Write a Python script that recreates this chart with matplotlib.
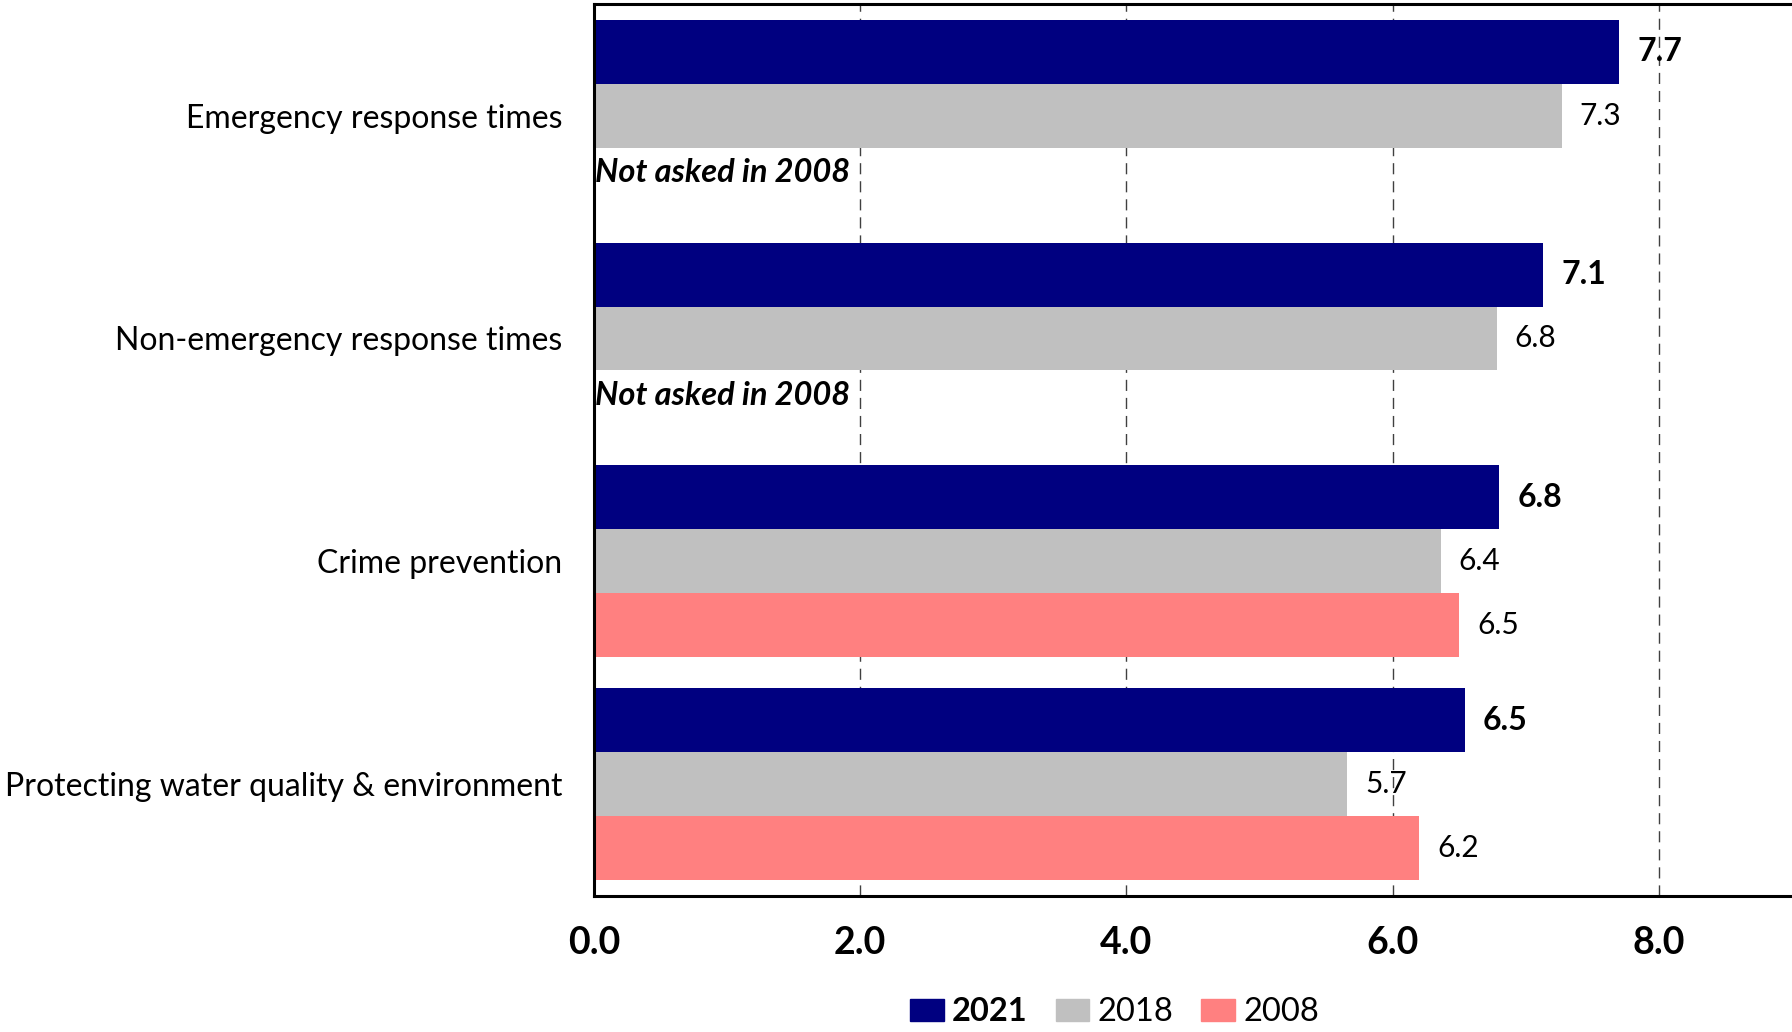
import matplotlib
matplotlib.use('Agg')
from matplotlib import pyplot as plt
from matplotlib.patches import Patch
import numpy as np

# data
categories = ['Emergency response times', 'Non-emergency response times',
              'Crime prevention', 'Protecting water quality & environment']
years = ['2021', '2018', '2008']
vals_2021 = [7.70, 7.13, 6.80, 6.54]
vals_2018 = [7.27, 6.78, 6.36, 5.66]
vals_2008 = [None, None, 6.50, 6.20]
not_asked_text = 'Not asked in 2008'
xticks = [0.0, 2.0, 4.0, 6.0, 8.0]

colors = ['#000080', '#C0C0C0', '#FF8080']
series = [vals_2021, vals_2018, vals_2008]

plt.rcParams['font.family'] = ['Lato', 'DejaVu Sans']

fig = plt.figure(figsize=(17.92, 10.32), dpi=100)
ax = fig.add_axes([0.3315, 0.132, 0.6685, 0.864])

h = 0.287
y = np.arange(len(categories))
for k, vals in enumerate(series):
    offs = (k - 1) * h
    for i, v in enumerate(vals):
        if v is None:
            # question missing that year
            ax.text(0.01, y[i] + offs - 0.03, not_asked_text, fontsize=23.5,
                    fontweight='bold', fontstyle='italic', va='center', ha='left')
            continue
        ax.barh(y[i] + offs, v, height=h, color=colors[k], zorder=2)
        ax.annotate('%.1f' % v, (v, y[i] + offs), xytext=(13, 0),
                    textcoords='offset points', va='center', ha='left',
                    fontsize=21.5 if k else 23, fontweight='bold' if k == 0 else 'normal')

ax.set_ylim(3.5, -0.5)
ax.set_xlim(0, 9)
ax.set_yticks(y)
ax.set_yticklabels(categories, fontsize=23)
ax.set_xticks(xticks)
ax.set_xticklabels(['%.1f' % t for t in xticks], fontsize=27, fontweight='bold')
ax.tick_params(axis='both', length=0)
ax.tick_params(axis='x', pad=22)
ax.tick_params(axis='y', pad=23)
ax.xaxis.grid(True, linestyle=(0, (8, 5)), color='#404040', linewidth=1.0, zorder=0)
ax.set_axisbelow(True)
for s in ['left', 'top', 'bottom']:
    ax.spines[s].set_linewidth(2.2)
ax.spines['right'].set_visible(False)

handles = [Patch(color=c) for c in colors]
leg = fig.legend(handles, years, loc='center', bbox_to_anchor=(0.622, 0.019),
                 ncol=3, frameon=False, fontsize=23.5, handlelength=1.04,
                 handleheight=0.7, handletextpad=0.25, columnspacing=0.85)
leg.get_texts()[0].set_fontweight('bold')

fig.savefig('out.png', dpi=100)
